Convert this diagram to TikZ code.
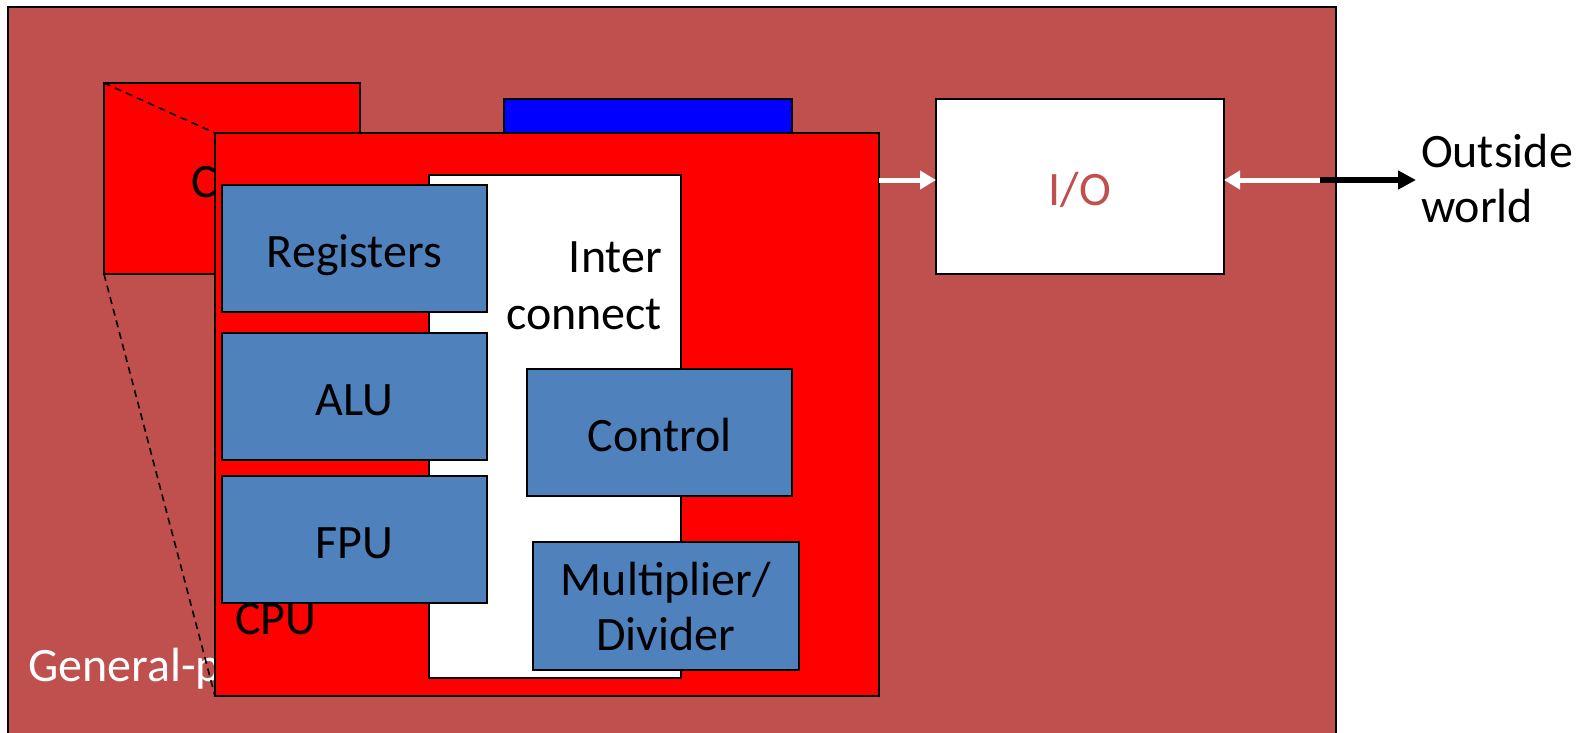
\documentclass[tikz,border=0pt]{standalone}
\usepackage{fontspec}
\setmainfont{Carlito}
\usetikzlibrary{arrows.meta}
\definecolor{framefill}{HTML}{C0504D}
\definecolor{unitfill}{HTML}{4F81BD}
\tikzset{
  box/.style={draw=black, line width=2pt, anchor=north west, inner sep=0pt, outer sep=0pt},
  bigtext/.style={font=\fontsize{48}{55}\selectfont},
  oneline/.style={text height=46pt, text depth=9pt},
  unitbox/.style={box, fill=unitfill, bigtext, align=center},
  lbl/.style={bigtext, inner sep=0pt, outer sep=0pt},
  wire/.style={draw=white, line width=5pt, -{Triangle[length=16pt,width=18pt]}},
  extwire/.style={draw=black, line width=6pt, -{Triangle[length=18pt,width=18pt]}},
  zoomline/.style={draw=black, line width=1.6pt, dash pattern=on 7pt off 5pt}
}
\begin{document}
\begin{tikzpicture}[x=1pt,y=-1pt]
\clip (0,0) rectangle (1581,732);
\fill[white] (0,0) rectangle (1581,732);

% system frame (runs off the bottom edge)
\node[box, fill=framefill, minimum width=1328pt, minimum height=790pt] (sys) at (8,7) {};
\node[lbl, text=white, anchor=base west] (gp) at (28,681) {General-purpose};

% small CPU, memory and I/O blocks
\node[box, fill=red, minimum width=256pt, minimum height=191pt] (mini) at (104,83) {};
\node[lbl, oneline] (minilbl) at (232,179) {CPU};
\node[box, fill=blue, minimum width=288pt, minimum height=120pt] (mem) at (504,99) {};
\node[box, fill=white, minimum width=288pt, minimum height=175pt, bigtext, oneline, text=framefill] (io) at (936,99) {I/O};

% exploded view lines
\draw[zoomline] (mini.north west) -- (215,133) coordinate (cpunw);
\draw[zoomline] (mini.south west) -- (215,696) coordinate (cpusw);

% enlarged CPU
\node[box, fill=red, minimum width=664pt, minimum height=563pt] (cpu) at (cpunw) {};
\node[box, fill=white, minimum width=252pt, minimum height=503pt] (ic) at (429,175) {};
\node[lbl, anchor=base east] (icA) at (662,272) {Inter};
\node[lbl, anchor=base east] (icB) at (662,329) {connect};

\node[unitbox, oneline, minimum width=265pt, minimum height=127pt] (reg) at (222,185) {Registers};
\node[unitbox, oneline, minimum width=265pt, minimum height=127pt] (alu) at (222,333) {ALU};
\node[unitbox, oneline, minimum width=265pt, minimum height=127pt] (fpu) at (222,476) {FPU};
\node[unitbox, oneline, minimum width=265pt, minimum height=127pt] (ctl) at (527,369) {Control};
\node[unitbox, minimum width=266pt, minimum height=128pt] (mul) at (533,542) {Multiplier/\\Divider};
\node[lbl, anchor=base west] (cpulbl) at (235,634) {CPU};

% connections
\coordinate (lk) at (0,180);
\coordinate (port) at (1320,180);
\coordinate (world) at (1416,180);
\draw[wire] (cpu.east |- lk) -- (io.west |- lk);
\draw[wire] (port) -- (io.east |- lk);
\draw[extwire] (port) -- (world);

\node[lbl, anchor=base west] (outA) at (1421,167) {Outside};
\node[lbl, anchor=base west] (outB) at (1421,222) {world};
\end{tikzpicture}
\end{document}
